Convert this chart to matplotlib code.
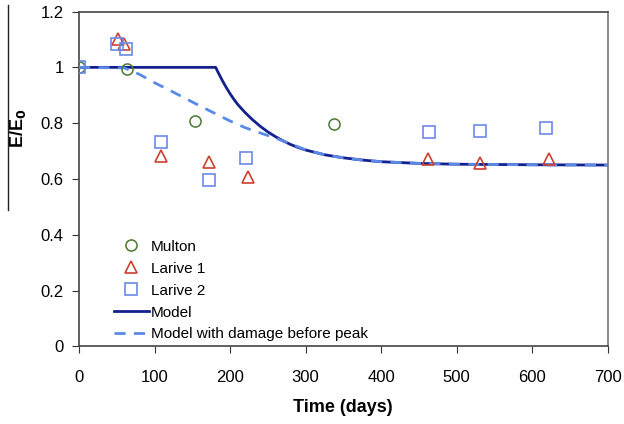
import matplotlib.pyplot as plt
from matplotlib.lines import Line2D

plt.rcParams['font.family'] = ['Liberation Sans', 'DejaVu Sans']

# measured data
multon_t = [0, 63, 153, 338]
multon_e = [1.0, 0.995, 0.807, 0.797]

larive1_t = [51, 59, 109, 172, 224, 462, 531, 622]
larive1_e = [1.10, 1.085, 0.682, 0.66, 0.608, 0.672, 0.658, 0.67]

larive2_t = [0, 50, 62, 109, 172, 221, 464, 531, 619]
larive2_e = [1.0, 1.082, 1.066, 0.733, 0.596, 0.676, 0.769, 0.772, 0.783]

# model curves
model_t = [0, 181, 185, 190, 195, 200, 205, 210, 220, 230, 240, 250, 260, 270, 280,
           290, 300, 325, 350, 375, 400, 450, 500, 600, 700]
model_e = [1.0, 1.0, 0.978, 0.952, 0.928, 0.906, 0.886, 0.868, 0.838, 0.812, 0.789,
           0.769, 0.752, 0.737, 0.724, 0.713, 0.704, 0.687, 0.676, 0.668, 0.662,
           0.656, 0.653, 0.651, 0.650]

damage_t = [0, 60, 80, 100, 120, 140, 160, 180, 200, 220, 240, 260, 280, 300,
            325, 350, 375, 400, 450, 500, 600, 700]
damage_e = [1.0, 0.998, 0.975, 0.945, 0.918, 0.89, 0.862, 0.835, 0.808, 0.784,
            0.765, 0.747, 0.726, 0.705, 0.687, 0.676, 0.668, 0.662, 0.656, 0.653,
            0.651, 0.650]

fig = plt.figure(figsize=(6.24, 4.24), dpi=100)
ax = fig.add_axes([0.1266, 0.1828, 0.847, 0.790])

ax.plot(model_t, model_e, color='#14208c', lw=2.0, label='Model', zorder=2)
ax.plot(damage_t, damage_e, color='#5b8ae6', lw=2.0, ls=(0, (4, 3)),
        label='Model with damage before peak', zorder=3)

ax.plot(multon_t, multon_e, 'o', mfc='none', mec='#4a7a30', ms=8, mew=1.1,
        label='Multon', zorder=4)
ax.plot(larive1_t, larive1_e, '^', mfc='none', mec='#cc4030', ms=9, mew=1.2,
        label='Larive 1', zorder=4)
ax.plot(larive2_t, larive2_e, 's', mfc='none', mec='#6a8ae8', ms=8.5, mew=1.2,
        label='Larive 2', zorder=4)

ax.set_xlim(0, 700)
ax.set_ylim(0, 1.2)
ax.set_xticks(range(0, 701, 100))
ax.set_yticks([0, 0.2, 0.4, 0.6, 0.8, 1.0, 1.2])
ax.set_yticklabels(['0', '0.2', '0.4', '0.6', '0.8', '1', '1.2'])
ax.tick_params(direction='out', length=5, labelsize=12, color='#333333')
ax.tick_params(axis='x', pad=12)
ax.tick_params(axis='y', pad=6)
for s in ax.spines.values():
    s.set_color('#444444')
    s.set_linewidth(1.2)
ax.spines['right'].set_color('#777777')

ax.set_xlabel('Time (days)', fontsize=13, fontweight='bold', labelpad=10)
ax.set_ylabel('E/E$_\\mathbf{0}$', fontsize=13, fontweight='bold')
ax.yaxis.set_label_coords(-0.097, 0.65)

h, l = ax.get_legend_handles_labels()
order = [2, 3, 4, 0, 1]
ax.legend([h[i] for i in order], [l[i] for i in order], loc='lower left',
          bbox_to_anchor=(0.066, 0.015), frameon=False, fontsize=11,
          handlelength=2.3, handletextpad=0.1, labelspacing=0.52,
          borderaxespad=0, borderpad=0)

fig.add_artist(Line2D([8 / 624, 8 / 624], [1 - 5 / 424, 1 - 210 / 424],
                      color='#222222', lw=1.0, transform=fig.transFigure))

fig.savefig('out.png', dpi=100)
